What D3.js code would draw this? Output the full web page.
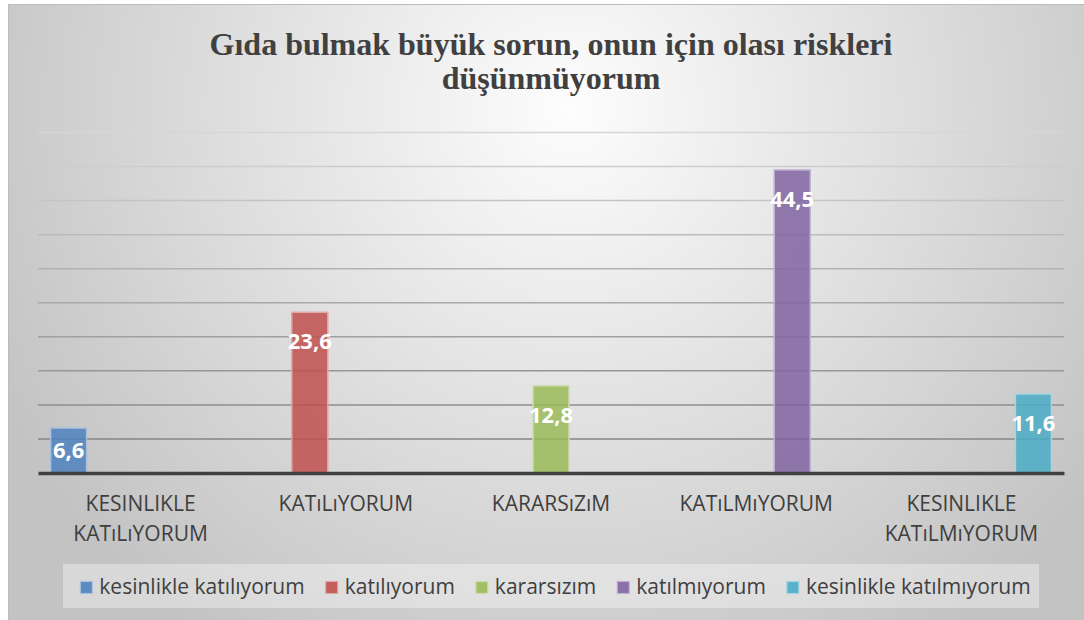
<!DOCTYPE html>
<html>
<head>
<meta charset="utf-8">
<script src="https://cdn.jsdelivr.net/npm/d3@7"></script>
<style>
  body { margin: 0; background: #ffffff; }
  svg { display: block; }
</style>
</head>
<body>
<div id="chart"></div>
<script>
// data
var titleLines = ["Gıda bulmak büyük sorun, onun için olası riskleri", "düşünmüyorum"];
var categories = ["KESINLIKLE\nKATıLıYORUM", "KATıLıYORUM", "KARARSıZıM", "KATıLMıYORUM", "KESINLIKLE\nKATıLMıYORUM"];
var seriesNames = ["kesinlikle katılıyorum", "katılıyorum", "kararsızım", "katılmıyorum", "kesinlikle katılmıyorum"];
var values = [6.6, 23.6, 12.8, 44.5, 11.6];
var yTicks = [0, 5, 10, 15, 20, 25, 30, 35, 40, 45, 50];
var colors = ["#4F81BD", "#C0504D", "#9BBB59", "#8064A2", "#4BACC6"];
var borders = ["#a7c0de", "#e0a8a6", "#cddcac", "#bfb1d0", "#a5d5e2"];

var W = 1084, H = 620;
var plot = {left: 38, right: 1064, top: 132.5, bottom: 473};

var svg = d3.select("#chart").append("svg")
  .attr("width", W)
  .attr("height", H);

var defs = svg.append("defs");
var bg = defs.append("radialGradient")
  .attr("id", "bg")
  .attr("gradientUnits", "userSpaceOnUse")
  .attr("cx", 570).attr("cy", 110).attr("r", 640);
bg.append("stop").attr("offset", 0).attr("stop-color", "#fdfdfd");
bg.append("stop").attr("offset", 1).attr("stop-color", "#c3c3c3");

var gridGrad = defs.append("linearGradient")
  .attr("id", "gridGrad")
  .attr("gradientUnits", "userSpaceOnUse")
  .attr("x1", 0).attr("y1", plot.top).attr("x2", 0).attr("y2", plot.bottom);
gridGrad.append("stop").attr("offset", 0).attr("stop-color", "#d6d6d6");
gridGrad.append("stop").attr("offset", 1).attr("stop-color", "#7c7c7c");

// frame
svg.append("rect")
  .attr("x", 8.5).attr("y", 4.5)
  .attr("width", W).attr("height", H)
  .attr("fill", "url(#bg)")
  .attr("stroke", "#bcbcbc")
  .attr("stroke-width", 1);

// title
var title = svg.append("text")
  .attr("text-anchor", "middle")
  .style("font-family", "'Liberation Serif', 'Times New Roman', serif")
  .style("font-weight", "bold")
  .style("font-size", "32px")
  .attr("fill", "#404040");
title.selectAll("tspan")
  .data(titleLines)
  .enter().append("tspan")
  .attr("x", 551)
  .attr("y", function (d, i) { return 55 + i * 34; })
  .text(function (d) { return d; });

// scales
var x0 = d3.scaleBand()
  .domain(categories)
  .range([plot.left, plot.right])
  .paddingInner(0)
  .paddingOuter(0);

var x1 = d3.scaleBand()
  .domain(seriesNames)
  .range([0, x0.bandwidth()])
  .paddingInner(0)
  .paddingOuter(0.35);

var y = d3.scaleLinear()
  .domain([0, 50])
  .range([plot.bottom, plot.top]);

// gridlines
svg.append("g")
  .selectAll("line")
  .data(yTicks.slice(1))
  .enter().append("line")
  .attr("x1", plot.left)
  .attr("x2", plot.right)
  .attr("y1", function (d) { return y(d); })
  .attr("y2", function (d) { return y(d); })
  .attr("stroke", "url(#gridGrad)")
  .attr("stroke-width", 1.5);

// bars: one series per category
svg.append("g")
  .selectAll("rect")
  .data(values)
  .enter().append("rect")
  .attr("x", function (d, i) { return x0(categories[i]) + x1(seriesNames[i]); })
  .attr("y", function (d) { return y(d); })
  .attr("width", x1.bandwidth())
  .attr("height", function (d) { return plot.bottom - y(d); })
  .attr("fill", function (d, i) { return colors[i]; })
  .attr("fill-opacity", 0.85)
  .attr("stroke", function (d, i) { return borders[i]; })
  .attr("stroke-width", 1.5);

// baseline axis
var xAxis = svg.append("g")
  .attr("transform", "translate(0," + plot.bottom + ")")
  .call(d3.axisBottom(x0).tickSize(0).tickFormat(""));
xAxis.select(".domain")
  .attr("stroke", "#404040")
  .attr("stroke-width", 3.5);

// category labels
var catLabels = svg.append("g")
  .selectAll("text")
  .data(categories)
  .enter().append("text")
  .attr("text-anchor", "middle")
  .style("font-family", "'Open Sans', sans-serif")
  .style("font-size", "21px")
  .attr("fill", "#3f3f3f");
catLabels.selectAll("tspan")
  .data(function (d) { return d.split("\n"); })
  .enter().append("tspan")
  .attr("x", function () { var c = d3.select(this.parentNode).datum(); return x0(c) + x0.bandwidth() / 2; })
  .attr("y", function (d, i) { return 511 + i * 29.5; })
  .text(function (d) { return d; });

// data labels
svg.append("g")
  .selectAll("text")
  .data(values)
  .enter().append("text")
  .attr("text-anchor", "middle")
  .attr("dominant-baseline", "central")
  .attr("x", function (d, i) { return x0(categories[i]) + x1(seriesNames[i]) + x1.bandwidth() / 2; })
  .attr("y", function (d) { return Math.min(y(d) + 28, (y(d) + plot.bottom) / 2 - 2); })
  .style("font-family", "'Open Sans', sans-serif")
  .style("font-weight", "bold")
  .style("font-size", "22px")
  .attr("fill", "#ffffff")
  .text(function (d) { return d3.format(".1f")(d).replace(".", ","); });

// legend
var legend = svg.append("g");
legend.append("rect")
  .attr("x", 63).attr("y", 564)
  .attr("width", 976).attr("height", 44)
  .attr("fill", "#ffffff")
  .attr("fill-opacity", 0.35);

var items = legend.selectAll("g.item")
  .data(seriesNames)
  .enter().append("g")
  .attr("class", "item");
items.append("rect")
  .attr("width", 12).attr("height", 12)
  .attr("y", 581.5)
  .attr("fill", function (d, i) { return colors[i]; })
  .attr("fill-opacity", 0.9)
  .attr("stroke", function (d, i) { return borders[i]; })
  .attr("stroke-width", 1.2);
items.append("text")
  .attr("y", 594)
  .style("font-family", "'Open Sans', sans-serif")
  .style("font-size", "21px")
  .attr("fill", "#3f3f3f")
  .text(function (d) { return d; });

var widths = [];
items.select("text").each(function () { widths.push(this.getComputedTextLength()); });
var total = d3.sum(widths) + seriesNames.length * 19 + (seriesNames.length - 1) * 21;
var cx = 84 + (943 - total) / 2;
items.each(function (d, i) {
  var g = d3.select(this);
  g.select("rect").attr("x", cx);
  g.select("text").attr("x", cx + 19);
  cx += 19 + widths[i] + 21;
});
</script>
</body>
</html>
